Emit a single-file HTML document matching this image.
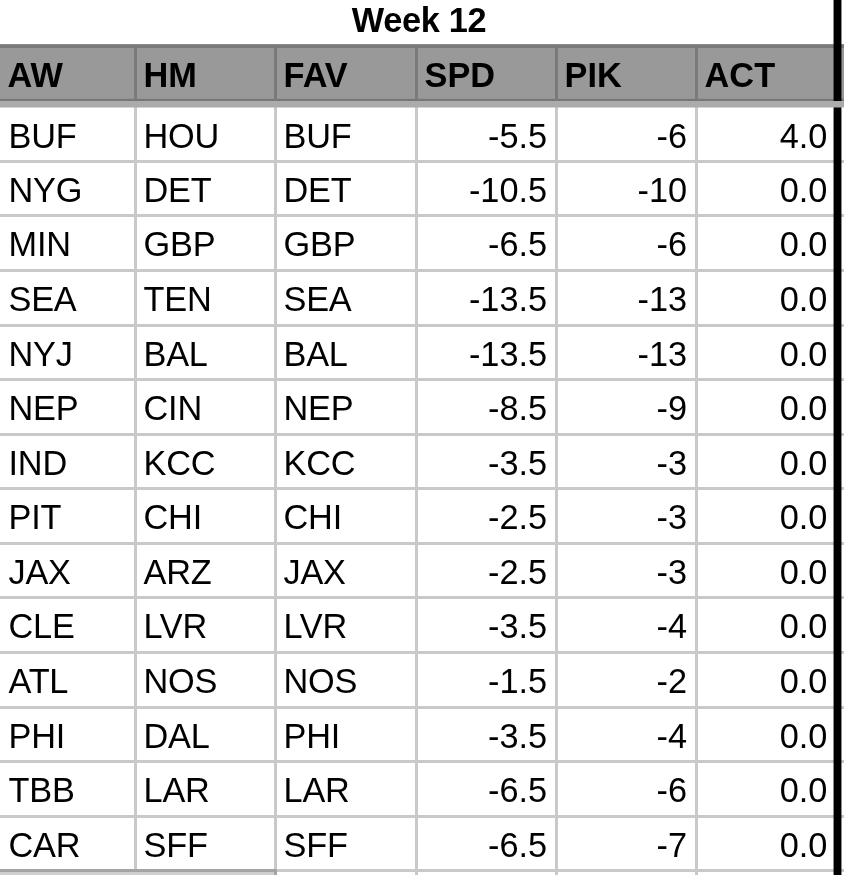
<!DOCTYPE html>
<html lang="en">
<head>
<meta charset="utf-8">
<title>Week 12</title>
<style>
html,body{margin:0;padding:0;background:#fff;}
body{width:844px;height:875px;position:relative;overflow:hidden;font-family:"Liberation Sans",sans-serif;font-size:34.3px;line-height:40px;color:#000;}
svg.grid{position:absolute;left:0;top:0;}
h1{position:absolute;left:219px;top:0.135px;width:400px;margin:0;font-size:34.3px;line-height:40px;font-weight:bold;text-align:center;letter-spacing:-0.3px;white-space:nowrap;}
table{position:absolute;left:0;top:44px;width:834px;table-layout:fixed;border-collapse:separate;border-spacing:0;}
th,td{box-sizing:border-box;margin:0;padding:10.135px 0 0 9.6px;vertical-align:top;text-align:left;white-space:nowrap;overflow:hidden;font-weight:normal;letter-spacing:-0.25px;}
th{font-weight:bold;letter-spacing:0;padding-top:11.135px;}
th:first-child{padding-left:7.6px;}
td:first-child{padding-left:8.6px;}
td.n{text-align:right;letter-spacing:0;padding-left:0;padding-right:7.9px;}
td.n:last-child{padding-right:6.6px;}
</style>
</head>
<body>

<svg class="grid" width="844" height="875" viewBox="0 0 844 875">
<rect x="0" y="44" width="844" height="57" fill="#999999"/>
<rect x="0" y="44" width="844" height="1" fill="#8c8c8c"/>
<rect x="0" y="45" width="844" height="3" fill="#7a7a7a"/>
<rect x="0" y="98.85" width="844" height="2.15" fill="#777777"/>
<rect x="134" y="45" width="3" height="56" fill="#7a7a7a"/>
<rect x="274" y="45" width="3" height="56" fill="#7a7a7a"/>
<rect x="415" y="45" width="3" height="56" fill="#7a7a7a"/>
<rect x="555" y="45" width="3" height="56" fill="#7a7a7a"/>
<rect x="695" y="45" width="3" height="56" fill="#7a7a7a"/>
<rect x="134" y="107" width="3" height="768" fill="#c9c9c9"/>
<rect x="274" y="107" width="3" height="768" fill="#c9c9c9"/>
<rect x="415" y="107" width="3" height="768" fill="#c9c9c9"/>
<rect x="555" y="107" width="3" height="768" fill="#c9c9c9"/>
<rect x="695" y="107" width="3" height="768" fill="#c9c9c9"/>
<rect x="0" y="160" width="844" height="3" fill="#c9c9c9"/>
<rect x="0" y="214" width="844" height="3" fill="#c9c9c9"/>
<rect x="0" y="269" width="844" height="3" fill="#c9c9c9"/>
<rect x="0" y="324" width="844" height="3" fill="#c9c9c9"/>
<rect x="0" y="378" width="844" height="3" fill="#c9c9c9"/>
<rect x="0" y="433" width="844" height="3" fill="#c9c9c9"/>
<rect x="0" y="487" width="844" height="3" fill="#c9c9c9"/>
<rect x="0" y="542" width="844" height="3" fill="#c9c9c9"/>
<rect x="0" y="596" width="844" height="3" fill="#c9c9c9"/>
<rect x="0" y="651" width="844" height="3" fill="#c9c9c9"/>
<rect x="0" y="706" width="844" height="3" fill="#c9c9c9"/>
<rect x="0" y="760" width="844" height="3" fill="#c9c9c9"/>
<rect x="0" y="815" width="844" height="3" fill="#c9c9c9"/>
<rect x="0" y="869" width="844" height="3" fill="#c9c9c9"/>
<rect x="0" y="869" width="277" height="6" fill="#cecece"/>
<rect x="0" y="869" width="277" height="3" fill="#a4a4a4"/>
<rect x="274" y="869" width="3" height="6" fill="#a4a4a4"/>
<rect x="833.55" y="0" width="7.9" height="875" fill="#000000"/>
<rect x="0" y="101" width="844" height="6.5" fill="#ababab"/>
</svg>
<h1>Week 12</h1>
<table>
<colgroup><col style="width:134px"><col style="width:140px"><col style="width:141px"><col style="width:140px"><col style="width:140px"><col style="width:139px"></colgroup>
<thead>
<tr style="height:62px"><th>AW</th><th>HM</th><th>FAV</th><th>SPD</th><th>PIK</th><th>ACT</th></tr>
</thead>
<tbody>
<tr style="height:54px"><td>BUF</td><td>HOU</td><td>BUF</td><td class="n">-5.5</td><td class="n">-6</td><td class="n">4.0</td></tr>
<tr style="height:54px"><td>NYG</td><td>DET</td><td>DET</td><td class="n">-10.5</td><td class="n">-10</td><td class="n">0.0</td></tr>
<tr style="height:55px"><td>MIN</td><td>GBP</td><td>GBP</td><td class="n">-6.5</td><td class="n">-6</td><td class="n">0.0</td></tr>
<tr style="height:55px"><td>SEA</td><td>TEN</td><td>SEA</td><td class="n">-13.5</td><td class="n">-13</td><td class="n">0.0</td></tr>
<tr style="height:54px"><td>NYJ</td><td>BAL</td><td>BAL</td><td class="n">-13.5</td><td class="n">-13</td><td class="n">0.0</td></tr>
<tr style="height:55px"><td>NEP</td><td>CIN</td><td>NEP</td><td class="n">-8.5</td><td class="n">-9</td><td class="n">0.0</td></tr>
<tr style="height:54px"><td>IND</td><td>KCC</td><td>KCC</td><td class="n">-3.5</td><td class="n">-3</td><td class="n">0.0</td></tr>
<tr style="height:55px"><td>PIT</td><td>CHI</td><td>CHI</td><td class="n">-2.5</td><td class="n">-3</td><td class="n">0.0</td></tr>
<tr style="height:54px"><td>JAX</td><td>ARZ</td><td>JAX</td><td class="n">-2.5</td><td class="n">-3</td><td class="n">0.0</td></tr>
<tr style="height:55px"><td>CLE</td><td>LVR</td><td>LVR</td><td class="n">-3.5</td><td class="n">-4</td><td class="n">0.0</td></tr>
<tr style="height:55px"><td>ATL</td><td>NOS</td><td>NOS</td><td class="n">-1.5</td><td class="n">-2</td><td class="n">0.0</td></tr>
<tr style="height:54px"><td>PHI</td><td>DAL</td><td>PHI</td><td class="n">-3.5</td><td class="n">-4</td><td class="n">0.0</td></tr>
<tr style="height:55px"><td>TBB</td><td>LAR</td><td>LAR</td><td class="n">-6.5</td><td class="n">-6</td><td class="n">0.0</td></tr>
<tr style="height:54px"><td>CAR</td><td>SFF</td><td>SFF</td><td class="n">-6.5</td><td class="n">-7</td><td class="n">0.0</td></tr>
</tbody>
</table>
</body>
</html>
